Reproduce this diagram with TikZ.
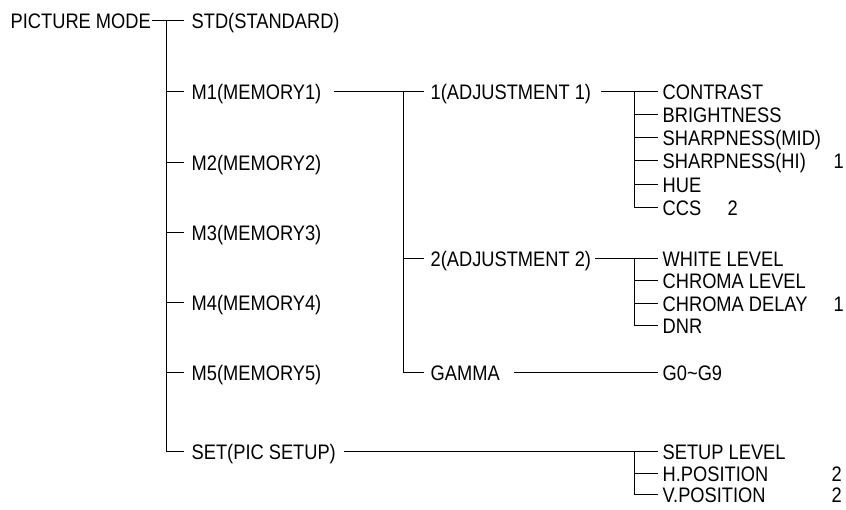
\documentclass[tikz,border=0pt]{standalone}
\usepackage{fontspec}
\setmainfont{Liberation Sans}[FakeStretch=0.87]
\begin{document}
\begin{tikzpicture}[x=1pt,y=-1pt,
  lbl/.style={anchor=west,inner sep=0pt,text height=15pt,text depth=0pt,font=\fontsize{21}{21}\selectfont},
  ln/.style={draw=black,line width=1pt}]
\useasboundingbox (-0.5,-0.5) rectangle (845.5,508.5);
% root
\node[lbl] (root) at (10,20) {PICTURE MODE};
% level 1
\node[lbl] (std) at (191,20) {STD(STANDARD)};
\node[lbl] (m1) at (191,91) {M1(MEMORY1)};
\node[lbl] (m2) at (191,162) {M2(MEMORY2)};
\node[lbl] (m3) at (191,232) {M3(MEMORY3)};
\node[lbl] (m4) at (191,302) {M4(MEMORY4)};
\node[lbl] (m5) at (191,372) {M5(MEMORY5)};
\node[lbl] (set) at (191,451) {SET(PIC SETUP)};
% level 2
\node[lbl] (adj1) at (430,91) {1(ADJUSTMENT 1)};
\node[lbl] (adj2) at (430,258) {2(ADJUSTMENT 2)};
\node[lbl] (gamma) at (430,372) {GAMMA};
% level 3
\node[lbl] (con) at (662,91) {CONTRAST};
\node[lbl] (bri) at (662,114) {BRIGHTNESS};
\node[lbl] (smid) at (662,137) {SHARPNESS(MID)};
\node[lbl] (shi) at (662,160) {SHARPNESS(HI)};
\node[lbl] (hue) at (662,184) {HUE};
\node[lbl] (ccs) at (662,207) {CCS};
\node[lbl] (wl) at (662,258) {WHITE LEVEL};
\node[lbl] (cl) at (662,280) {CHROMA LEVEL};
\node[lbl] (cd) at (662,303) {CHROMA DELAY};
\node[lbl] (dnr) at (662,325) {DNR};
\node[lbl] (g09) at (662,372) {G0\char"7E G9};
\node[lbl] (sl) at (662,451) {SETUP LEVEL};
\node[lbl] (hp) at (662,473) {H.POSITION};
\node[lbl] (vp) at (662,494) {V.POSITION};
% notes
\node[lbl] (n1) at (833,160) {1};
\node[lbl] (n2) at (727,207) {2};
\node[lbl] (n3) at (833,303) {1};
\node[lbl] (n4) at (831,473) {2};
\node[lbl] (n5) at (831,494) {2};
% trunk coordinates
\coordinate (t1) at (166,20);
\coordinate (t2) at (403,91);
\coordinate (t3) at (634,91);
\coordinate (t4) at (634,258);
\coordinate (t5) at (634,451);
% level 1 connectors
\draw[ln] ([xshift=1]root.east) -- ([xshift=-8]std.west);
\draw[ln] (t1) |- ([xshift=-8]set.west);
\foreach \n in {m1,m2,m3,m4,m5}
  \draw[ln] (t1 |- \n.west) -- ([xshift=-8]\n.west);
% level 2 connectors
\draw[ln] ([xshift=13]m1.east) -- ([xshift=-7]adj1.west);
\draw[ln] (t2) |- ([xshift=-7]gamma.west);
\draw[ln] (t2 |- adj2.west) -- ([xshift=-7]adj2.west);
% level 3 connectors
\draw[ln] ([xshift=10]adj1.east) -- ([xshift=-5]con.west);
\draw[ln] (t3) |- ([xshift=-5]ccs.west);
\foreach \n in {bri,smid,shi,hue}
  \draw[ln] (t3 |- \n.west) -- ([xshift=-5]\n.west);
\draw[ln] ([xshift=4]adj2.east) -- ([xshift=-5]wl.west);
\draw[ln] (t4) |- ([xshift=-5]dnr.west);
\foreach \n in {cl,cd}
  \draw[ln] (t4 |- \n.west) -- ([xshift=-5]\n.west);
\draw[ln] ([xshift=14]gamma.east) -- ([xshift=-5]g09.west);
\draw[ln] ([xshift=8]set.east) -- ([xshift=-5]sl.west);
\draw[ln] (t5) |- ([xshift=-5]vp.west);
\draw[ln] (t5 |- hp.west) -- ([xshift=-5]hp.west);
\end{tikzpicture}
\end{document}
